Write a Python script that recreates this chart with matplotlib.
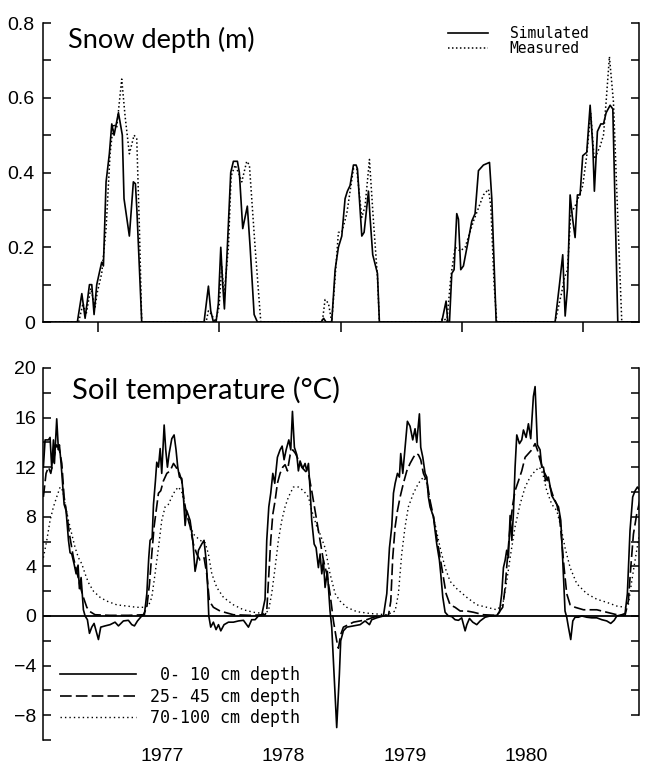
import numpy as np
import matplotlib
matplotlib.use("Agg")
import matplotlib.pyplot as plt
from matplotlib.ticker import MultipleLocator

# ---- snow depth (m), decimal year ----
snow_sim_t = [1976.546,
    1976.829, 1976.866, 1976.893, 1976.929, 1976.948, 1976.967, 1976.989, 1977.016, 1977.030,
    1977.044, 1977.066, 1977.093, 1977.113, 1977.132, 1977.168, 1977.200, 1977.214, 1977.258,
    1977.291, 1977.308, 1977.320, 1977.360,
    1977.874, 1977.910, 1977.929, 1977.951, 1977.973, 1977.992, 1978.012, 1978.028, 1978.042,
    1978.066, 1978.094, 1978.116, 1978.149, 1978.165, 1978.193, 1978.231, 1978.254, 1978.287,
    1978.314,
    1978.840, 1978.860, 1978.880, 1978.927, 1978.955, 1978.982, 1979.010, 1979.037, 1979.056,
    1979.078, 1979.106, 1979.128, 1979.139, 1979.175, 1979.194, 1979.230, 1979.243, 1979.265,
    1979.304, 1979.320,
    1979.834, 1979.870, 1979.884, 1979.898, 1979.917, 1979.936, 1979.958, 1979.972, 1979.991,
    1980.013, 1980.054, 1980.082, 1980.109, 1980.137, 1980.178, 1980.228, 1980.247, 1980.283,
    1980.769, 1980.805, 1980.832, 1980.852, 1980.871, 1980.893, 1980.912, 1980.934, 1980.953,
    1980.975, 1980.997, 1981.030, 1981.058, 1981.080, 1981.093, 1981.118, 1981.146, 1981.168,
    1981.190, 1981.223, 1981.245, 1981.286,
    1981.461]
snow_sim = [0,
    0, 0.076, 0.01, 0.10, 0.10, 0.02, 0.10, 0.14, 0.16,
    0.15, 0.375, 0.45, 0.53, 0.50, 0.56, 0.50, 0.33, 0.23,
    0.375, 0.37, 0.30, 0,
    0, 0.096, 0.03, 0, 0, 0.05, 0.20, 0.10, 0.035,
    0.20, 0.40, 0.43, 0.43, 0.40, 0.25, 0.31, 0.20, 0.02,
    0,
    0, 0.01, 0, 0, 0.14, 0.20, 0.23, 0.33, 0.35,
    0.365, 0.42, 0.42, 0.41, 0.23, 0.24, 0.35, 0.28, 0.18,
    0.13, 0,
    0, 0.056, 0, 0, 0.13, 0.14, 0.29, 0.275, 0.14,
    0.15, 0.22, 0.27, 0.29, 0.405, 0.42, 0.427, 0.33, 0,
    0, 0.10, 0.18, 0.016, 0.09, 0.34, 0.28, 0.226, 0.34,
    0.34, 0.445, 0.454, 0.58, 0.47, 0.35, 0.51, 0.53, 0.53,
    0.56, 0.58, 0.57, 0,
    0]

snow_meas_t = [1976.546,
    1976.840, 1976.876, 1976.901, 1976.940, 1976.975, 1976.994, 1977.030, 1977.066, 1977.099,
    1977.126, 1977.154, 1977.195, 1977.223, 1977.258, 1977.297, 1977.319, 1977.341, 1977.360,
    1977.891, 1977.910, 1977.937, 1977.965, 1977.998, 1978.020, 1978.039, 1978.075, 1978.097,
    1978.130, 1978.157, 1978.185, 1978.226, 1978.248, 1978.295, 1978.342,
    1978.845, 1978.853, 1978.872, 1978.900, 1978.927, 1978.955, 1978.982, 1979.010, 1979.051,
    1979.106, 1979.133, 1979.175, 1979.202, 1979.238, 1979.271, 1979.304, 1979.320,
    1979.815, 1979.821, 1979.854, 1979.876, 1979.909, 1979.944, 1979.986, 1980.027, 1980.096,
    1980.178, 1980.219, 1980.239, 1980.266, 1980.288,
    1980.769, 1980.824, 1980.843, 1980.871, 1980.898, 1980.934, 1980.970, 1980.997, 1981.030,
    1981.063, 1981.091, 1981.113, 1981.140, 1981.168, 1981.190, 1981.217, 1981.250, 1981.286,
    1981.319,
    1981.461]
snow_meas = [0,
    0, 0.05, 0.02, 0.09, 0.04, 0.08, 0.13, 0.25, 0.45,
    0.53, 0.52, 0.65, 0.55, 0.45, 0.50, 0.49, 0.25, 0,
    0, 0.03, 0.02, 0, 0.04, 0.15, 0.07, 0.20, 0.39,
    0.42, 0.40, 0.375, 0.43, 0.42, 0.20, 0,
    0, 0.01, 0.06, 0.05, 0, 0.12, 0.24, 0.24, 0.29,
    0.41, 0.41, 0.28, 0.31, 0.435, 0.27, 0.12, 0,
    0, 0.005, 0.01, 0, 0.12, 0.20, 0.19, 0.20, 0.27,
    0.34, 0.355, 0.31, 0.10, 0,
    0, 0.08, 0.115, 0.14, 0.29, 0.31, 0.34, 0.365, 0.445,
    0.56, 0.436, 0.45, 0.47, 0.50, 0.59, 0.71, 0.59, 0.28,
    0,
    0]

# ---- soil temperature (deg C), decimal year ----
t_010 = [1976.549, 1976.563, 1976.591, 1976.604, 1976.618, 1976.632, 1976.640, 1976.659, 1976.673,
    1976.681, 1976.695, 1976.720, 1976.736, 1976.756, 1976.769, 1976.783, 1976.802, 1976.819,
    1976.835, 1976.846, 1976.860, 1976.879, 1976.893, 1976.912, 1976.929, 1976.948, 1976.967,
    1976.984, 1977.003, 1977.022, 1977.058, 1977.099, 1977.140, 1977.168, 1977.209, 1977.250,
    1977.278, 1977.300, 1977.325, 1977.360, 1977.382, 1977.402, 1977.418, 1977.429, 1977.446,
    1977.457, 1977.473, 1977.484, 1977.498, 1977.512, 1977.525, 1977.545, 1977.558, 1977.572,
    1977.586, 1977.608, 1977.627, 1977.643, 1977.657, 1977.671, 1977.690, 1977.704, 1977.718,
    1977.731, 1977.745, 1977.759, 1977.781, 1977.800, 1977.814, 1977.828, 1977.855, 1977.874,
    1977.891, 1977.902, 1977.913, 1977.929, 1977.951, 1977.973, 1977.993, 1978.012, 1978.039,
    1978.075, 1978.116, 1978.158, 1978.199, 1978.240, 1978.267, 1978.295, 1978.322, 1978.350,
    1978.377, 1978.391, 1978.408, 1978.424, 1978.441, 1978.457, 1978.479, 1978.501, 1978.518,
    1978.534, 1978.551, 1978.573, 1978.589, 1978.603, 1978.619, 1978.639, 1978.652, 1978.666,
    1978.688, 1978.707, 1978.721, 1978.735, 1978.749, 1978.762, 1978.782, 1978.798, 1978.817,
    1978.831, 1978.845, 1978.858, 1978.872, 1978.891, 1978.913, 1978.927, 1978.946, 1978.968,
    1978.990, 1979.001, 1979.023, 1979.051, 1979.106, 1979.161, 1979.202, 1979.238, 1979.257,
    1979.298, 1979.353, 1979.381, 1979.403, 1979.422, 1979.436, 1979.450, 1979.469, 1979.485,
    1979.496, 1979.513, 1979.532, 1979.551, 1979.573, 1979.595, 1979.614, 1979.628, 1979.650,
    1979.661, 1979.678, 1979.697, 1979.711, 1979.724, 1979.738, 1979.766, 1979.779, 1979.793,
    1979.815, 1979.826, 1979.843, 1979.862, 1979.889, 1979.917, 1979.944, 1979.972, 1979.999,
    1980.027, 1980.041, 1980.063, 1980.090, 1980.123, 1980.151, 1980.192, 1980.233, 1980.288,
    1980.310, 1980.329, 1980.343, 1980.357, 1980.370, 1980.384, 1980.398, 1980.412, 1980.425,
    1980.439, 1980.453, 1980.475, 1980.494, 1980.508, 1980.530, 1980.549, 1980.568, 1980.590,
    1980.604, 1980.623, 1980.645, 1980.659, 1980.673, 1980.690, 1980.714, 1980.742, 1980.783,
    1980.797, 1980.816, 1980.832, 1980.851, 1980.865, 1980.879, 1980.898, 1980.915, 1980.934,
    1980.961, 1980.989, 1981.030, 1981.071, 1981.113, 1981.154, 1981.195, 1981.228, 1981.256,
    1981.278, 1981.319, 1981.346, 1981.365, 1981.387, 1981.409, 1981.429, 1981.448, 1981.470]
temp_010 = [12.0, 14.2, 14.2, 14.4, 11.9, 14.2, 12.3, 15.9, 13.4,
    13.8, 12.3, 9.0, 8.5, 6.1, 5.1, 5.0, 4.2, 3.4,
    4.1, 2.2, 3.1, 0.5, 0.0, -0.3, -1.4, -0.9, -0.6,
    -1.2, -1.9, -0.9, -0.8, -0.7, -0.5, -0.8, -0.4, -0.35,
    -0.7, -0.8, -0.4, 0.0, 0.1, 1.8, 4.7, 6.1, 6.3,
    9.0, 10.9, 12.4, 12.0, 13.5, 11.5, 15.4, 13.4, 12.0,
    13.1, 14.3, 14.6, 13.4, 12.0, 11.2, 11.1, 9.6, 7.3,
    8.5, 8.1, 7.7, 6.1, 3.6, 4.3, 5.3, 5.8, 6.1,
    4.5, 2.8, 0.0, -0.9, -0.5, -1.1, -0.7, -1.2, -0.7,
    -0.5, -0.5, -0.4, -0.35, -0.9, -0.3, -0.3, 0.0, 0.1,
    1.35, 6.1, 8.8, 9.9, 11.5, 10.7, 12.8, 13.4, 13.7,
    12.6, 13.4, 14.2, 13.4, 16.5, 13.6, 13.0, 11.7, 12.5,
    11.9, 12.3, 11.7, 12.3, 10.1, 7.7, 5.8, 5.5, 3.9,
    5.0, 3.4, 4.5, 2.3, 3.6, 0.4, -0.9, -4.7, -9.0,
    -4.7, -2.0, -1.2, -0.9, -0.8, -0.7, -0.4, -0.7, -0.3,
    -0.15, 0.0, 1.8, 5.5, 7.2, 9.9, 10.7, 11.5, 11.2,
    13.1, 11.5, 13.6, 15.7, 15.3, 14.2, 15.1, 14.0, 16.3,
    13.6, 12.8, 11.5, 11.2, 9.6, 8.8, 8.0, 6.9, 5.8,
    4.5, 3.4, 1.5, 0.3, 0.0, -0.05, -0.3, -0.35, -0.15,
    -1.2, -0.7, -0.2, -0.5, -0.7, -0.4, -0.1, 0.0, 0.05,
    0.3, 1.8, 3.9, 4.5, 5.3, 4.7, 8.1, 6.1, 8.2,
    12.0, 14.6, 13.9, 14.2, 15.0, 14.4, 15.5, 14.3, 17.7,
    18.5, 13.8, 13.4, 12.0, 12.0, 10.9, 11.2, 9.7, 9.0,
    8.8, 7.7, 4.5, 0.4, -0.1, -0.9, -1.9, -0.4, -0.1,
    -0.1, 0.0, -0.1, -0.15, -0.15, -0.3, -0.4, -0.6, -0.35,
    0.0, 0.1, 0.2, 1.8, 6.9, 9.6, 10.1, 10.4, 10.1]

t_2545 = [1976.549, 1976.571, 1976.591, 1976.610, 1976.632, 1976.659, 1976.681, 1976.701, 1976.720,
    1976.742, 1976.769, 1976.797, 1976.824, 1976.852, 1976.879, 1976.907, 1976.934, 1976.975,
    1977.100, 1977.250, 1977.374, 1977.402, 1977.424, 1977.443, 1977.462, 1977.479, 1977.498,
    1977.517, 1977.539, 1977.567, 1977.594, 1977.622, 1977.643, 1977.671, 1977.690, 1977.709,
    1977.731, 1977.759, 1977.786, 1977.814, 1977.841, 1977.874, 1977.896, 1977.918, 1977.951,
    1978.006, 1978.116, 1978.250, 1978.377, 1978.391, 1978.408, 1978.424, 1978.441, 1978.460,
    1978.479, 1978.501, 1978.523, 1978.542, 1978.562, 1978.584, 1978.606, 1978.628, 1978.652,
    1978.680, 1978.707, 1978.735, 1978.762, 1978.831, 1978.858, 1978.886, 1978.913, 1978.941,
    1978.968, 1978.982, 1979.001, 1979.023, 1979.065, 1979.106, 1979.161, 1979.216, 1979.271,
    1979.326, 1979.395, 1979.414, 1979.430, 1979.450, 1979.469, 1979.491, 1979.518, 1979.546,
    1979.573, 1979.601, 1979.623, 1979.642, 1979.661, 1979.683, 1979.711, 1979.738, 1979.766,
    1979.793, 1979.821, 1979.848, 1979.870, 1979.903, 1979.944, 1979.986, 1980.041, 1980.096,
    1980.178, 1980.288, 1980.337, 1980.357, 1980.376, 1980.398, 1980.420, 1980.439, 1980.467,
    1980.494, 1980.522, 1980.549, 1980.577, 1980.604, 1980.623, 1980.645, 1980.673, 1980.700,
    1980.728, 1980.755, 1980.783, 1980.805, 1980.824, 1980.843, 1980.865, 1980.893, 1980.934,
    1981.003, 1981.113, 1981.195, 1981.278, 1981.346, 1981.373, 1981.393, 1981.415, 1981.442,
    1981.475]
temp_2545 = [9.6, 11.5, 12.0, 11.5, 12.6, 13.8, 13.4, 12.3, 9.6,
    8.2, 6.3, 4.7, 3.6, 2.4, 1.5, 0.7, 0.35, 0.1,
    0.05, 0.05, 0.1, 0.7, 2.6, 5.0, 7.2, 8.5, 9.9,
    10.1, 10.9, 11.5, 11.7, 12.3, 12.0, 11.5, 10.9, 9.3,
    8.2, 7.2, 5.8, 5.0, 4.5, 4.7, 3.4, 1.2, 0.7,
    0.4, 0.1, 0.05, 0.1, 0.4, 3.4, 6.1, 8.2, 9.3,
    10.7, 11.5, 12.0, 12.2, 11.7, 13.0, 13.4, 13.1, 12.6,
    12.0, 11.7, 11.5, 10.1, 6.1, 4.5, 3.4, 1.8, -0.4,
    -2.0, -2.6, -1.5, -0.9, -0.7, -0.5, -0.4, -0.3, -0.1,
    0.0, 0.05, 1.2, 4.7, 7.2, 8.5, 9.6, 10.7, 11.7,
    12.3, 12.8, 13.1, 13.0, 12.6, 11.5, 10.9, 9.3, 8.0,
    6.3, 4.7, 3.1, 1.8, 0.9, 0.7, 0.4, 0.4, 0.3,
    0.1, 0.05, 0.7, 2.3, 4.7, 7.2, 9.0, 10.1, 10.9,
    11.7, 12.8, 13.1, 13.4, 13.9, 13.4, 12.6, 11.7, 11.2,
    10.4, 9.6, 9.0, 8.0, 6.1, 3.9, 1.8, 0.9, 0.7,
    0.5, 0.5, 0.3, 0.1, 0.05, 1.2, 3.9, 6.6, 8.2,
    9.6]

t_70100 = [1976.549, 1976.577, 1976.604, 1976.632, 1976.659, 1976.687, 1976.709, 1976.728, 1976.756,
    1976.783, 1976.811, 1976.838, 1976.866, 1976.893, 1976.920, 1976.962, 1977.017, 1977.072,
    1977.154, 1977.237, 1977.319, 1977.374, 1977.415, 1977.443, 1977.470, 1977.498, 1977.525,
    1977.553, 1977.580, 1977.608, 1977.635, 1977.663, 1977.690, 1977.718, 1977.745, 1977.786,
    1977.841, 1977.883, 1977.910, 1977.938, 1977.979, 1978.034, 1978.116, 1978.199, 1978.281,
    1978.364, 1978.405, 1978.432, 1978.460, 1978.487, 1978.515, 1978.542, 1978.570, 1978.611,
    1978.652, 1978.694, 1978.735, 1978.762, 1978.804, 1978.831, 1978.872, 1978.913, 1978.955,
    1978.996, 1979.051, 1979.133, 1979.243, 1979.381, 1979.450, 1979.477, 1979.504, 1979.532,
    1979.559, 1979.601, 1979.642, 1979.683, 1979.711, 1979.744, 1979.779, 1979.821, 1979.862,
    1979.903, 1979.958, 1980.041, 1980.123, 1980.206, 1980.288, 1980.337, 1980.370, 1980.403,
    1980.439, 1980.480, 1980.522, 1980.563, 1980.604, 1980.640, 1980.667, 1980.700, 1980.742,
    1980.783, 1980.816, 1980.851, 1980.893, 1980.948, 1981.030, 1981.113, 1981.195, 1981.278,
    1981.346, 1981.373, 1981.401, 1981.437, 1981.470]
temp_70100 = [4.7, 6.1, 7.7, 8.8, 9.6, 10.4, 10.1, 9.0, 7.7,
    6.6, 5.5, 4.7, 4.2, 3.4, 2.7, 2.0, 1.5, 1.2,
    0.9, 0.8, 0.7, 0.7, 0.8, 1.5, 3.4, 5.5, 7.7,
    8.8, 9.0, 9.6, 10.1, 10.4, 10.0, 8.8, 7.7, 6.6,
    6.1, 5.9, 5.0, 3.4, 2.3, 1.5, 0.9, 0.5, 0.3,
    0.2, 0.4, 1.8, 3.9, 6.1, 7.7, 8.8, 9.6, 10.4,
    10.4, 10.1, 9.6, 8.5, 7.2, 6.6, 5.5, 3.4, 1.8,
    1.2, 0.7, 0.35, 0.2, 0.1, 0.4, 1.8, 5.0, 7.2,
    8.8, 9.9, 10.7, 11.2, 10.7, 8.8, 7.4, 5.5, 3.9,
    2.8, 2.2, 1.5, 0.9, 0.7, 0.5, 0.9, 2.8, 5.0,
    7.2, 9.0, 10.4, 11.2, 11.7, 12.0, 11.5, 10.1, 9.0,
    8.5, 7.2, 5.5, 3.9, 2.6, 1.8, 1.35, 1.1, 0.8,
    0.7, 0.9, 2.8, 5.0, 6.9]

years = [1977, 1978, 1979, 1980, 1981]
year_labels = ['1977', '1978', '1979', '1980']
label_pos = [1977.53, 1978.53, 1979.53, 1980.53]
xlim = (1976.546, 1981.461)

tickfont = ['Liberation Sans', 'DejaVu Sans']
titlefont = ['Lato', 'DejaVu Sans']
mono = ['DejaVu Sans Mono']

fig = plt.figure(figsize=(6.45, 7.7), dpi=100)

# ---- top: snow depth ----
ax1 = fig.add_axes([0.0667, 0.5818, 0.924, 0.3883])
ax1.plot(snow_sim_t, snow_sim, color='k', lw=1.2, label='Simulated')
ax1.plot(snow_meas_t, snow_meas, color='k', lw=1.1, ls=(0, (1, 1.6)), label='Measured')
ax1.set_xlim(xlim)
ax1.set_ylim(0, 0.8)
ax1.spines['top'].set_visible(False)
for s in ax1.spines.values():
    s.set_linewidth(1.1)
ax1.set_xticks(years)
ax1.set_xticklabels([])
ax1.tick_params(axis='x', direction='out', length=7, width=1.1)
ax1.yaxis.set_minor_locator(MultipleLocator(0.1))
ax1.set_yticks([0, 0.2, 0.4, 0.6, 0.8])
ax1.set_yticklabels(['0', '0.2', '0.4', '0.6', '0.8'])
ax1.tick_params(axis='y', which='both', direction='in', length=6, width=1.1,
                right=True, pad=6)
for lab in ax1.get_yticklabels():
    lab.set_family(tickfont)
    lab.set_fontsize(14)
ax1.text(0.042, 0.943, 'Snow depth (m)', transform=ax1.transAxes, ha='left', va='center',
         fontsize=19.5, family=titlefont)
leg1 = ax1.legend(loc='upper right', bbox_to_anchor=(0.915, 0.99), frameon=False,
                  prop={'family': mono, 'size': 10.5}, handlelength=2.7, handletextpad=1.5,
                  labelspacing=0.0, borderpad=0, borderaxespad=0)

# ---- bottom: soil temperature ----
ax2 = fig.add_axes([0.0667, 0.039, 0.924, 0.4831])
ax2.plot(t_010, temp_010, color='k', lw=1.2, label='  0- 10 cm depth')
ax2.plot(t_2545, temp_2545, color='k', lw=1.2, ls=(0, (7, 2.5)), label=' 25- 45 cm depth')
ax2.plot(t_70100, temp_70100, color='k', lw=1.0, ls=(0, (1, 2.2)), label=' 70-100 cm depth')
ax2.axhline(0, color='k', lw=1.3)
ax2.set_xlim(xlim)
ax2.set_ylim(-10, 20)
for side in ['top', 'bottom', 'right']:
    ax2.spines[side].set_visible(False)
ax2.spines['left'].set_linewidth(1.1)
ax2.set_yticks(range(-8, 21, 4))
ax2.yaxis.set_minor_locator(MultipleLocator(2))
ax2.tick_params(axis='y', which='both', direction='in', length=6, width=1.1, pad=5)
for lab in ax2.get_yticklabels():
    lab.set_family(tickfont)
    lab.set_fontsize(14)
ax2.set_xticks(label_pos)
ax2.set_xticklabels(year_labels)
ax2.tick_params(axis='x', length=0, pad=6)
for lab in ax2.get_xticklabels():
    lab.set_family(tickfont)
    lab.set_fontsize(14)

ax2r = ax2.twinx()
ax2r.set_ylim(-10, 20)
for side in ['top', 'bottom', 'left']:
    ax2r.spines[side].set_visible(False)
ax2r.spines['right'].set_bounds(-8, 20)
ax2r.spines['right'].set_linewidth(1.1)
ax2r.set_yticks(range(-8, 21, 2))
ax2r.set_yticklabels([])
ax2r.tick_params(axis='y', direction='in', length=6, width=1.1)

ax2.text(0.049, 0.941, 'Soil temperature (\u00b0C)', transform=ax2.transAxes, ha='left',
         va='center', fontsize=21, family=titlefont)
leg2 = ax2.legend(loc='lower left', bbox_to_anchor=(0.028, 0.035), frameon=False,
                  prop={'family': mono, 'size': 12}, handlelength=4.6, handletextpad=0.2,
                  labelspacing=0.2, borderpad=0, borderaxespad=0)

fig.savefig('out.png', dpi=100)
